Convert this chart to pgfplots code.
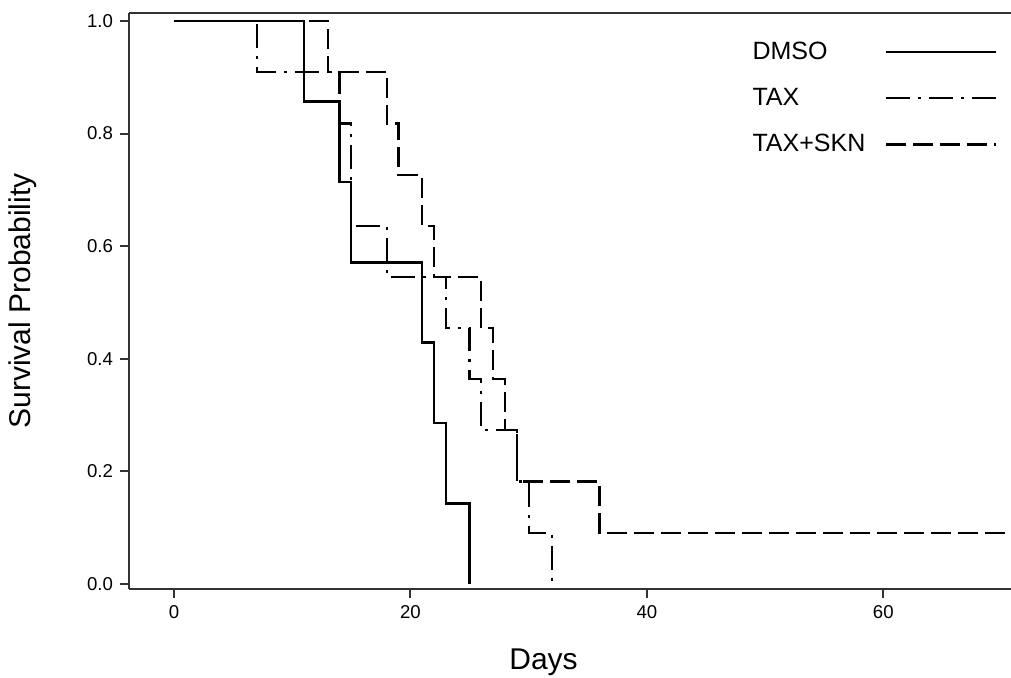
\documentclass[border=0pt]{standalone}
\usepackage{pgfplots}
\pgfplotsset{compat=1.18}
\usepackage{fontspec}
\setmainfont{Liberation Sans}

\begin{document}
\begin{tikzpicture}
\begin{axis}[%
name=ax,
scale only axis,
width=441pt, height=288pt,
xmin=-3.8, xmax=70.8,
ymin=-0.0089, ymax=1.0142,
axis x line=box, axis y line=left,
x axis line style={-}, y axis line style={-},
axis line style={line width=1pt, black!80},
xtick={0,20,40,60},
ytick={0,0.2,0.4,0.6,0.8,1.0},
xtick pos=bottom, ytick pos=left,
tick align=outside,
major tick length=4.5pt,
tick style={line width=1pt, black!80},
yticklabel style={/pgf/number format/.cd, fixed, fixed zerofill, precision=1},
/pgf/number format/assume math mode=true,
ticklabel style={font=\fontsize{9.3}{11}\selectfont},
xlabel={Days}, ylabel={Survival Probability},
label style={font=\fontsize{15}{18}\selectfont},
xlabel style={at={(axis description cs:0.47,-0.128)}, anchor=center},
ylabel style={at={(axis description cs:-0.1202,0.5)}, anchor=center},
legend plot pos=right,
legend cell align=left,
legend image code/.code={\draw[#1] (0pt,0pt) -- (55pt,0pt);},
legend style={at={(axis description cs:0.702,0.958)}, anchor=north west,
  draw=none, fill=none, font=\fontsize{12.5}{15}\selectfont,
  row sep=9pt, column sep=8pt, inner sep=0pt},
]
% DMSO
\addplot[const plot, line width=1.1pt, black] coordinates {
(0,1) (11,0.857) (14,0.714) (15,0.571) (21,0.429) (22,0.286) (23,0.143) (25,0)
};
\addlegendentry{DMSO}
% TAX
\addplot[const plot, line width=1.1pt, black,
  dash pattern=on 12pt off 4pt on 1.5pt off 4pt] coordinates {
(0,1) (7,0.909) (14,0.818) (15,0.636) (18,0.545) (23,0.455) (25,0.364)
(26,0.273) (29,0.182) (30,0.091) (32,0)
};
\addlegendentry{TAX}
% TAX+SKN
\addplot[const plot, line width=1.1pt, black,
  dash pattern=on 10pt off 3.5pt] coordinates {
(0,1) (13,0.909) (18,0.818) (19,0.727) (21,0.636) (22,0.545) (26,0.455)
(27,0.364) (28,0.273) (29,0.182) (36,0.091) (71,0.091)
};
\addlegendentry{TAX+SKN}
\coordinate (bl) at (rel axis cs:0,0);
\coordinate (tr) at (rel axis cs:1,1);
\end{axis}
\pgfresetboundingbox
\path ([xshift=-64.5pt,yshift=-44.5pt]bl) rectangle ([yshift=6.5pt]tr);
\end{tikzpicture}
\end{document}
